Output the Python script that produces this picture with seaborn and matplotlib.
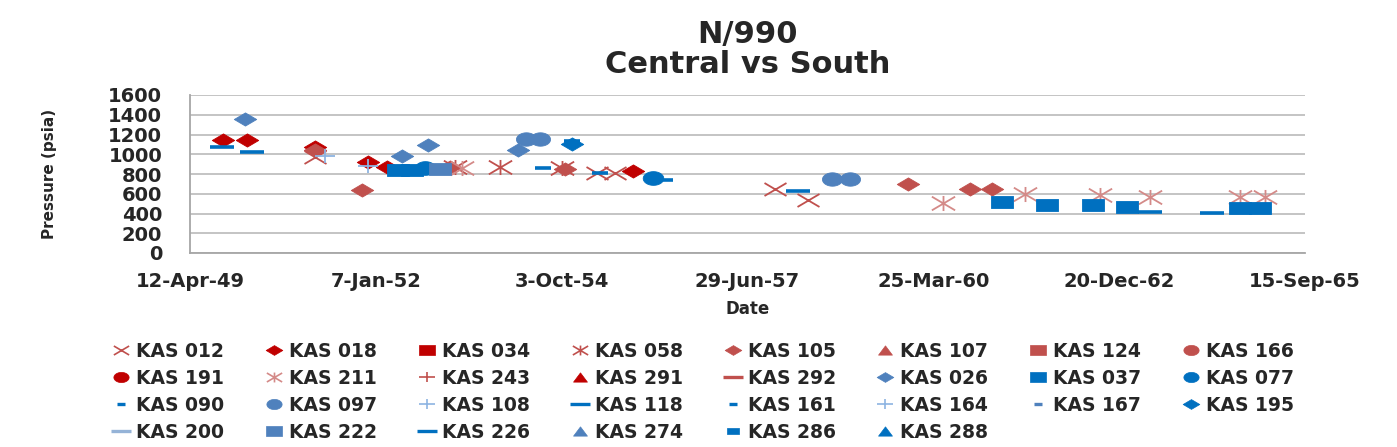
import numpy as np
import pandas as pd
import matplotlib
matplotlib.use("Agg")
import matplotlib.pyplot as plt
from matplotlib.path import Path
from matplotlib.markers import MarkerStyle
from matplotlib.lines import Line2D
import seaborn as sns

wells = ["KAS 012", "KAS 018", "KAS 034", "KAS 058", "KAS 105", "KAS 107", "KAS 124", "KAS 166",
         "KAS 191", "KAS 211", "KAS 243", "KAS 291", "KAS 292", "KAS 026", "KAS 037", "KAS 077",
         "KAS 090", "KAS 097", "KAS 108", "KAS 118", "KAS 161", "KAS 164", "KAS 167", "KAS 195",
         "KAS 200", "KAS 222", "KAS 226", "KAS 274", "KAS 286", "KAS 288"]

# readings taken off the chart
pt_well = (["KAS 012"] * 5 + ["KAS 018"] * 6 + ["KAS 058"] * 3 + ["KAS 105"] * 7 + ["KAS 211"] * 7
           + ["KAS 026"] * 4 + ["KAS 037"] * 8 + ["KAS 077"] * 2 + ["KAS 090"] * 3 + ["KAS 097"] * 4
           + ["KAS 108", "KAS 118", "KAS 118", "KAS 161", "KAS 164", "KAS 195", "KAS 222"]
           + ["KAS 226"] * 3)
pt_date = ["1951-02-13", "1955-04-11", "1955-07-17", "1957-11-23", "1958-05-20",
           "1949-10-07", "1950-02-13", "1951-02-13", "1951-11-26", "1952-03-07", "1955-10-21",
           "1953-03-08", "1953-11-05", "1954-10-04",
           "1951-02-13", "1951-10-24", "1953-02-09", "1954-10-20", "1959-11-09", "1960-10-07", "1961-02-03",
           "1953-04-14", "1960-05-15", "1961-07-30", "1962-09-07", "1963-06-03", "1964-09-29", "1965-02-11",
           "1950-02-02", "1952-05-27", "1952-10-13", "1954-02-10",
           "1952-05-05", "1952-07-19", "1961-03-29", "1961-11-26", "1962-07-31", "1963-01-30", "1964-09-29", "1965-01-15",
           "1952-09-27", "1956-02-06",
           "1954-06-24", "1955-04-27", "1956-04-10",
           "1954-03-25", "1954-06-08", "1958-09-26", "1959-01-01",
           "1951-04-08", "1949-10-01", "1950-03-12", "1954-11-27", "1951-11-26", "1954-11-27", "1952-12-17",
           "1958-03-27", "1963-06-03", "1964-05-01"]
pt_psia = [970, 810, 810, 650, 540,
           1140, 1140, 1070, 920, 870, 830,
           870, 870, 860,
           1040, 640, 870, 850, 700, 650, 650,
           860, 510, 600, 590, 570, 570, 570,
           1360, 980, 1090, 1040,
           840, 840, 520, 490, 490, 470, 460, 460,
           860, 760,
           860, 810, 740,
           1150, 1150, 750, 750,
           980, 1070, 1020, 1130, 880, 1100, 850,
           630, 420, 410]

x_ticks = pd.date_range("1949-04-12", periods=7, freq="1000D")
x_tick_labels = ["12-Apr-49", "7-Jan-52", "3-Oct-54", "29-Jun-57", "25-Mar-60", "20-Dec-62", "15-Sep-65"]

df = pd.DataFrame({"well": pt_well, "date": pd.to_datetime(pt_date), "psia": pt_psia})

DRED, RED, PINK = "#C00000", "#C0504D", "#D48A88"
BLUE, BLUE2, LBLUE, GBLUE = "#0070C0", "#4F81BD", "#8DB4E2", "#95B3D7"


def closed(v):
    v = list(v) + [v[0]]
    return Path(v, [Path.MOVETO] + [Path.LINETO] * (len(v) - 2) + [Path.CLOSEPOLY])


t = np.linspace(0, 2 * np.pi, 36, endpoint=False)
shapes = {
    "D": closed([(-1.7, 0), (0, 1), (1.7, 0), (0, -1)]),
    "s": closed([(-1.8, -1), (1.8, -1), (1.8, 1), (-1.8, 1)]),
    "^": closed([(-1.5, -1), (1.5, -1), (0, 1)]),
    "o": closed(list(zip(1.5 * np.cos(t), np.sin(t)))),
    "x": Path([(-1.7, -1), (1.7, 1), (-1.7, 1), (1.7, -1)], [1, 2, 1, 2]),
    "*": Path([(-1.7, -1), (1.7, 1), (-1.7, 1), (1.7, -1), (0, -1.1), (0, 1.1)], [1, 2, 1, 2, 1, 2]),
    "+": Path([(-1.5, 0), (1.5, 0), (0, -1), (0, 1)], [1, 2, 1, 2]),
    "-": Path([(-1, 0), (1, 0)], [1, 2]),
}
line_art = {"x", "*", "+", "-"}

# well -> (shape, colour, scatter size, legend size)
style = {
    "KAS 012": ("x", RED, 250, 11), "KAS 018": ("D", DRED, 260, 12), "KAS 034": ("s", DRED, 250, 12),
    "KAS 058": ("*", RED, 280, 11), "KAS 105": ("D", RED, 260, 12), "KAS 107": ("^", RED, 200, 10),
    "KAS 124": ("s", RED, 250, 12), "KAS 166": ("o", RED, 200, 11), "KAS 191": ("o", DRED, 200, 11),
    "KAS 211": ("*", PINK, 280, 11), "KAS 243": ("+", RED, 200, 11), "KAS 291": ("^", DRED, 200, 10),
    "KAS 292": ("-", RED, 300, 15), "KAS 026": ("D", BLUE2, 260, 12), "KAS 037": ("s", BLUE, 250, 12),
    "KAS 077": ("o", BLUE, 220, 11), "KAS 090": ("-", BLUE, 120, 6), "KAS 097": ("o", BLUE2, 210, 11),
    "KAS 108": ("+", LBLUE, 220, 11), "KAS 118": ("-", BLUE, 320, 15), "KAS 161": ("-", BLUE, 120, 6),
    "KAS 164": ("+", LBLUE, 200, 11), "KAS 167": ("-", BLUE2, 120, 6), "KAS 195": ("D", BLUE, 260, 12),
    "KAS 200": ("-", GBLUE, 300, 15), "KAS 222": ("s", BLUE2, 250, 12), "KAS 226": ("-", BLUE, 320, 15),
    "KAS 274": ("^", BLUE2, 200, 10), "KAS 286": ("s", BLUE, 150, 9), "KAS 288": ("^", BLUE, 200, 10),
}

sns.set_style("white")
plt.rcParams["font.family"] = ["DejaVu Sans"]
plt.rcParams["font.weight"] = "bold"

fig = plt.figure(figsize=(13.97, 4.47), dpi=100)
ax = fig.add_axes([190 / 1397, 1 - 253 / 447, (1305 - 190) / 1397, (253 - 95) / 447])

for w in wells:
    sub = df[df["well"] == w]
    if sub.empty:
        continue
    shp, col, sz, _ = style[w]
    lw = 1.3 if shp in line_art else 0.6
    if shp == "-":
        lw = 2.6
    sns.scatterplot(data=sub, x="date", y="psia", ax=ax, marker=MarkerStyle(shapes[shp]),
                    s=sz, color=col, edgecolor=col, linewidth=lw, legend=False, zorder=3)

ax.set_xlim(x_ticks[0], x_ticks[-1])
ax.set_ylim(0, 1600)
ax.set_yticks(range(0, 1601, 200))
ax.set_xticks(x_ticks)
ax.set_xticklabels(x_tick_labels)
ax.tick_params(axis="both", length=0, labelsize=14)
ax.tick_params(axis="y", pad=20)
ax.tick_params(axis="x", pad=14)
ax.yaxis.grid(True, color="#BFBFBF", lw=1.3)
ax.set_axisbelow(True)
for sp in ["top", "right"]:
    ax.spines[sp].set_visible(False)
for sp in ["left", "bottom"]:
    ax.spines[sp].set_color("#A6A6A6")
    ax.spines[sp].set_linewidth(1.3)

ax.set_xlabel("Date", fontsize=12, fontweight="bold", labelpad=6)
ax.set_ylabel("Pressure (psia)", fontsize=11, fontweight="bold", labelpad=37)
ax.set_title("N/990\nCentral vs South", fontsize=22, fontweight="bold", pad=16, linespacing=1.05)

handles = []
for w in wells:
    shp, col, _, ms = style[w]
    lw = 1.2 if shp in line_art else 0.5
    if shp == "-":
        lw = 2.4
    handles.append(Line2D([], [], linestyle="none", marker=MarkerStyle(shapes[shp]), markersize=ms,
                          color=col, markerfacecolor=col, markeredgecolor=col, markeredgewidth=lw))

ncol = 8
order = [i for c in range(ncol) for i in range(c, len(wells), ncol)]
fig.legend([handles[i] for i in order], [wells[i] for i in order], ncol=ncol,
           loc="upper left", bbox_to_anchor=(112 / 1397, 1 - 342 / 447, 1182 / 1397, 0.0001),
           mode="expand", frameon=False, fontsize=13.5, handlelength=1.0, handletextpad=0.3,
           labelspacing=0.42, borderaxespad=0, borderpad=0)

fig.savefig("out.png", dpi=100)
